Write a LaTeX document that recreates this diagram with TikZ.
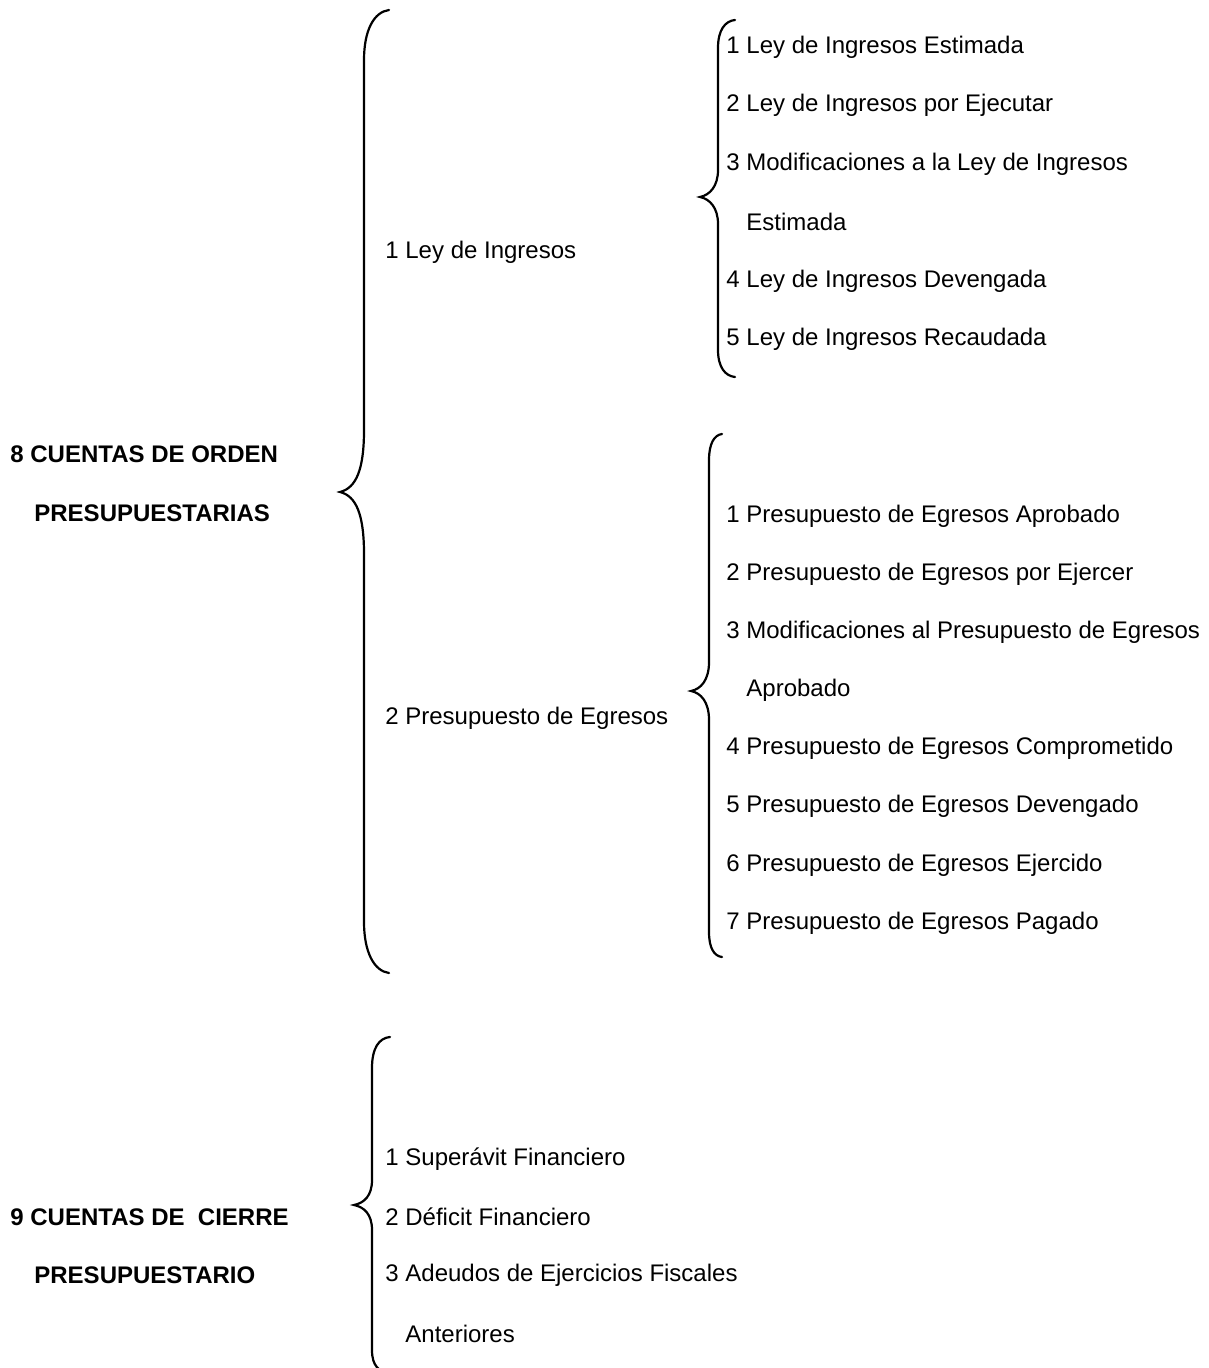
\documentclass[tikz,border=0pt]{standalone}
\usepackage{fontspec}
\setmainfont{Liberation Sans}
\usepackage{tikz}

\begin{document}
\begin{tikzpicture}[x=0.5pt, y=-0.5pt,
  item/.style={anchor=west, inner sep=0pt, font=\fontsize{12}{14}\selectfont},
  head/.style={item, font=\fontsize{12}{14}\selectfont\bfseries},
  curl/.style={line width=1.1pt, line cap=round}]
\useasboundingbox (0,0) rectangle (1208,1368);

% grupo 8
\node[head] (orden) at (10, 454) {8 CUENTAS DE ORDEN};
\node[head] (orden2) at (34, 513) {PRESUPUESTARIAS};
\draw [curl] (389,10) .. controls (374,12) and (364,30) .. (364,60) -- (364,430)
  .. controls (364,470) and (356,488) .. (340,492)
  .. controls (356,496) and (364,514) .. (364,554) -- (364,922)
  .. controls (364,952) and (374,971) .. (389,973);

\node[item] (ley) at (385, 252) {1 Ley de Ingresos};
\node[item] (egr) at (385, 718) {2 Presupuesto de Egresos};

% ley de ingresos
\draw [curl] (735,20) .. controls (725,21) and (718,30) .. (718,48) -- (718,170)
  .. controls (718,186) and (710,195) .. (700,197)
  .. controls (710,199) and (718,208) .. (718,224) -- (718,350)
  .. controls (718,367) and (725,376) .. (735,377);
\node[item] (li1) at (726, 47) {1 Ley de Ingresos Estimada};
\node[item] (li2) at (726, 105) {2 Ley de Ingresos por Ejecutar};
\node[item] (li3) at (726, 164) {3 Modificaciones a la Ley de Ingresos};
\node[item] (li3b) at (746, 222) {Estimada};
\node[item] (li4) at (726, 281) {4 Ley de Ingresos Devengada};
\node[item] (li5) at (726, 339) {5 Ley de Ingresos Recaudada};

% presupuesto de egresos
\draw [curl] (722,434) .. controls (714,435) and (709,444) .. (709,460) -- (709,662)
  .. controls (709,680) and (701,689) .. (691,691)
  .. controls (701,693) and (709,702) .. (709,720) -- (709,932)
  .. controls (709,948) and (714,956) .. (722,957);
\node[item] (pe1) at (726, 516) {1 Presupuesto de Egresos Aprobado};
\node[item] (pe2) at (726, 574) {2 Presupuesto de Egresos por Ejercer};
\node[item] (pe3) at (726, 632) {3 Modificaciones al Presupuesto de Egresos};
\node[item] (pe3b) at (746, 690) {Aprobado};
\node[item] (pe4) at (726, 748) {4 Presupuesto de Egresos Comprometido};
\node[item] (pe5) at (726, 806) {5 Presupuesto de Egresos Devengado};
\node[item] (pe6) at (726, 865) {6 Presupuesto de Egresos Ejercido};
\node[item] (pe7) at (726, 923) {7 Presupuesto de Egresos Pagado};

% grupo 9
\node[head] (cierre) at (10, 1217) {9 CUENTAS DE\ \ CIERRE};
\node[head] (cierre2) at (34, 1275) {PRESUPUESTARIO};
\draw [curl] (390,1037) .. controls (379,1038) and (372,1048) .. (372,1068) -- (372,1180)
  .. controls (372,1196) and (364,1203) .. (354,1205)
  .. controls (364,1207) and (372,1214) .. (372,1230) -- (372,1350)
  .. controls (372,1366) and (379,1372) .. (390,1373);
\node[item] (ci1) at (385, 1159) {1 Superávit Financiero};
\node[item] (ci2) at (385, 1217) {2 Déficit Financiero};
\node[item] (ci3) at (385, 1275) {3 Adeudos de Ejercicios Fiscales};
\node[item] (ci3b) at (405, 1334) {Anteriores};
\end{tikzpicture}
\end{document}
